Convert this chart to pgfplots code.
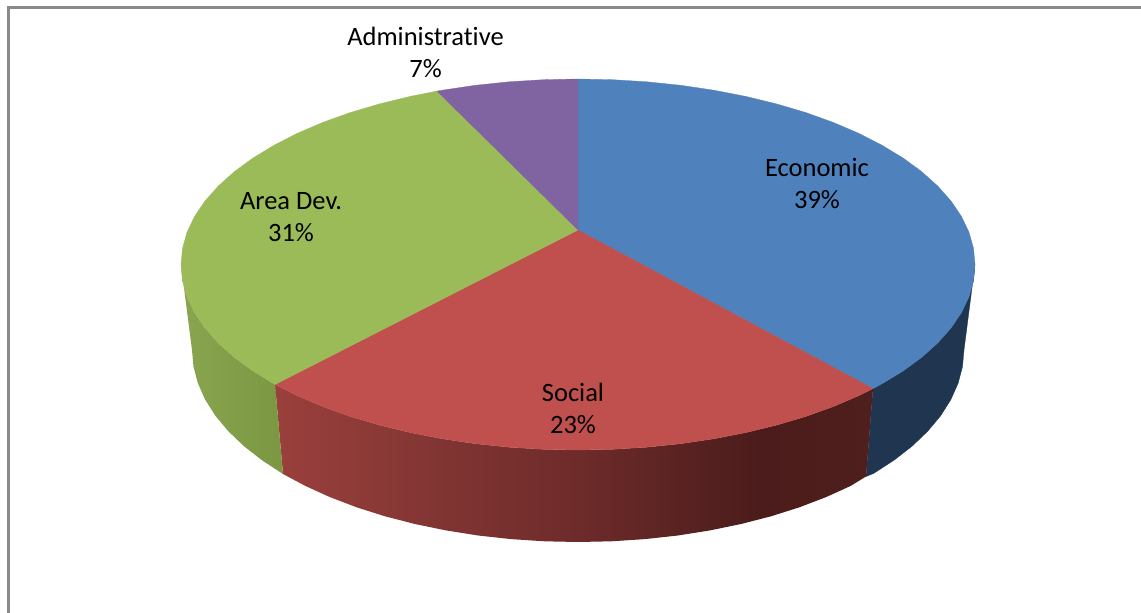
\documentclass[border=0pt]{standalone}
\usepackage{fontspec}
\setmainfont{Carlito}[Ligatures=NoCommon]
\usepackage{pgfplots}
\pgfplotsset{compat=1.18}

\definecolor{econTop}{HTML}{4F81BD}
\definecolor{socTop}{HTML}{C0504D}
\definecolor{areaTop}{HTML}{9BBB59}
\definecolor{admTop}{HTML}{8064A2}
\definecolor{econSide}{HTML}{1F3550}
\definecolor{frameGray}{HTML}{8A8A8A}
\definecolor{socA}{HTML}{9A3F3C}
\definecolor{socB}{HTML}{8F3B38}
\definecolor{socC}{HTML}{7F3432}
\definecolor{socD}{HTML}{6E2B2A}
\definecolor{socE}{HTML}{592322}
\definecolor{socF}{HTML}{4B1C1B}
\definecolor{socG}{HTML}{4E1F1C}
\definecolor{areaA}{HTML}{8AA550}
\definecolor{areaB}{HTML}{7B9742}

% Rim shading of the two lit slices; a path's width spans 25bp to 75bp
\pgfdeclarehorizontalshading{socRim}{100bp}{
  color(0bp)=(socA);
  color(25bp)=(socA);
  color(31.3bp)=(socB);
  color(39.6bp)=(socC);
  color(50.3bp)=(socD);
  color(58.9bp)=(socE);
  color(65.6bp)=(socF);
  color(75bp)=(socG);
  color(100bp)=(socG)}
\pgfdeclarehorizontalshading{areaRim}{100bp}{
  color(0bp)=(areaA);
  color(25bp)=(areaA);
  color(75bp)=(areaB);
  color(100bp)=(areaB)}

\begin{document}
\begin{tikzpicture}[x=1pt,y=1pt,
  sliceLabel/.style={font=\fontsize{26.5}{32}\selectfont, align=center, text=black, inner sep=0pt}]
\path[use as bounding box] (0,0) rectangle (1141,613);
\begin{axis}[
  at={(0,0)}, anchor=south west,
  scale only axis, width=1141pt, height=613pt,
  xmin=0, xmax=1141, ymin=0, ymax=613,
  y dir=reverse,
  axis lines=none,
  clip=false,
  every axis plot/.append style={mark=none, line join=round},
]
% chart frame
\draw[frameGray, line width=2.6pt] (axis cs:8.3,613) -- (axis cs:8.3,7.2) -- (axis cs:1141,7.2);

% Economic, rim
\addplot[fill=econSide, draw=econSide, line width=0.3pt] coordinates {
 (975,264.5) (973.5,280.7) (969,296.7) (961.5,312.5) (951.1,327.9) (937.8,342.9)
 (921.8,357.25) (903.2,370.9) (882.1,383.7) (873,388.6)
 (866,476.5) (873.7,473.4) (894.2,460.1) (912.3,446) (927.8,431.1) (940.7,415.7)
 (950.8,399.7) (958.1,383.3) (962.5,366.7) (964,350) (975,264.5)};

% Social, rim
\addplot[shading=socRim, draw=none] coordinates {
 (873,388.6) (858.7,395.7) (833.2,406.6) (805.7,416.5) (776.5,425.1) (745.8,432.6)
 (713.8,438.8) (680.7,443.7) (646.9,447.2) (612.6,449.3) (578,450) (543.4,449.3)
 (509.1,447.2) (475.3,443.7) (442.2,438.8) (410.2,432.6) (379.5,425.1) (350.3,416.5)
 (322.8,406.6) (297.3,395.7) (275,384.5)
 (283,474) (305.1,485.8) (329.9,497.1) (356.6,507.3) (385,516.3) (414.9,524) (446,530.4)
 (478.1,535.5) (511,539.1) (544.4,541.3) (578,542) (611.6,541.3) (645,539.1) (677.9,535.5)
 (710,530.4) (741.1,524) (771,516.3) (799.4,507.3) (826.1,497.1) (850.9,485.8) (866,476.5)
 (873,388.6)};

% Area Dev., rim
\addplot[shading=areaRim, draw=none] coordinates {
 (275,384.5) (252.8,370.9) (234.2,357.25) (218.2,342.9) (204.9,327.9) (194.5,312.5)
 (187,296.7) (182.5,280.7) (181,264.5)
 (192,350) (193.5,366.7) (197.9,383.3) (205.2,399.7) (215.3,415.7) (228.2,431.1)
 (243.7,446) (261.8,460.1) (283,474) (275,384.5)};

% Economic, top face
\addplot[fill=econTop, draw=econTop, line width=0.3pt] coordinates {
 (578,230) (578,79) (612.6,79.7) (646.9,81.8) (680.7,85.3) (713.8,90.2) (745.8,96.4)
 (776.5,103.9) (805.7,112.5) (833.2,122.4) (858.7,133.3) (882.1,145.3) (903.2,158.1)
 (921.8,171.75) (937.8,186.1) (951.1,201.1) (961.5,216.5) (969,232.3) (973.5,248.3)
 (975,264.5) (973.5,280.7) (969,296.7) (961.5,312.5) (951.1,327.9) (937.8,342.9)
 (921.8,357.25) (903.2,370.9) (882.1,383.7) (873,388.6) (578,230)};

% Social, top face
\addplot[fill=socTop, draw=socTop, line width=0.3pt] coordinates {
 (578,230) (873,388.6) (858.7,395.7) (833.2,406.6) (805.7,416.5) (776.5,425.1) (745.8,432.6)
 (713.8,438.8) (680.7,443.7) (646.9,447.2) (612.6,449.3) (578,450) (543.4,449.3)
 (509.1,447.2) (475.3,443.7) (442.2,438.8) (410.2,432.6) (379.5,425.1) (350.3,416.5)
 (322.8,406.6) (297.3,395.7) (275,384.5) (578,230)};

% Area Dev., top face
\addplot[fill=areaTop, draw=areaTop, line width=0.3pt] coordinates {
 (578,230) (275,384.5) (252.8,370.9) (234.2,357.25) (218.2,342.9) (204.9,327.9) (194.5,312.5)
 (187,296.7) (182.5,280.7) (181,264.5) (182.5,248.3) (187,232.3) (194.5,216.5) (204.9,201.1)
 (218.2,186.1) (234.2,171.75) (252.8,158.1) (273.9,145.3) (297.3,133.3) (322.8,122.4)
 (350.3,112.5) (379.5,103.9) (410.2,96.4) (437,91.1) (578,230)};

% Administrative, top face
\addplot[fill=admTop, draw=admTop, line width=0.3pt] coordinates {
 (578,230) (437,91.1) (442.2,90.2) (475.3,85.3) (509.1,81.8) (543.4,79.7) (578,79) (578,230)};

% slice labels
\node[sliceLabel] at (axis cs:817,183) {Economic\\39\%};
\node[sliceLabel] at (axis cs:573,408) {Social\\23\%};
\node[sliceLabel] at (axis cs:291,217) {Area Dev.\\31\%};
\node[sliceLabel] at (axis cs:425.5,52.5) {Administrative\\7\%};
\end{axis}
\end{tikzpicture}
\end{document}
